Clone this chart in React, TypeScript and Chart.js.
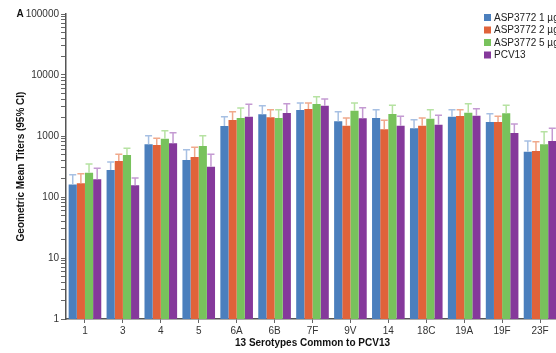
import React, { useEffect, useRef } from "react";
import { Chart, registerables } from "chart.js";

Chart.register(...registerables);

const categories = ["1", "3", "4", "5", "6A", "6B", "7F", "9V", "14", "18C", "19A", "19F", "23F"];

const seriesLabels = ["ASP3772 1 µg", "ASP3772 2 µg", "ASP3772 5 µg", "PCV13"];

const asp1 = [161, 277, 731, 404, 1459, 2270, 2669, 1741, 1972, 1337, 2073, 1697, 553];
const asp2 = [168, 389, 711, 453, 1829, 2025, 2772, 1476, 1288, 1476, 2128, 1697, 567];
const asp5 = [250, 488, 903, 686, 1972, 1972, 3350, 2600, 2295, 1921, 2413, 2355, 731];
const pcv13 = [195, 156, 759, 314, 2073, 2383, 3140, 1950, 1476, 1533, 2153, 1120, 828];

const asp1Upper = [232, 375, 1011, 597, 2073, 3140, 3475, 2505, 2702, 1853, 2702, 2322, 828];
const asp2Upper = [241, 501, 917, 652, 2505, 2702, 3475, 1972, 1808, 1972, 2702, 2101, 807];
const asp5Upper = [347, 629, 1222, 1011, 2877, 2702, 4413, 3475, 3186, 2702, 3388, 3186, 1177];
const pcv13Upper = [295, 205, 1133, 501, 3311, 3388, 4045, 2911, 2101, 2183, 2803, 1574, 1337];

const yTickLabels = ["1", "10", "100", "1000", "10000", "100000"];

const seriesValues = [asp1, asp2, asp5, pcv13];
const seriesUpper = [asp1Upper, asp2Upper, asp5Upper, pcv13Upper];

const colors = ["#4b7fbd", "#e0633a", "#78c25c", "#85399b"];
const whiskerColors = ["#a7c0e3", "#f0a98c", "#b6e2a2", "#c49ad2"];

const FONT = "'Liberation Sans', Arial, Helvetica, sans-serif";

const errorBarPlugin = {
  id: "errorBars",
  afterDatasetsDraw(chart: any) {
    const ctx = chart.ctx;
    const yScale = chart.scales.y;
    ctx.save();
    chart.data.datasets.forEach((ds: any, i: number) => {
      const meta = chart.getDatasetMeta(i);
      const upper = seriesUpper[i];
      meta.data.forEach((el: any, j: number) => {
        const x = el.x;
        const yTop = el.y;
        const yErr = yScale.getPixelForValue(upper[j]);
        ctx.strokeStyle = whiskerColors[i];
        ctx.lineWidth = 1.5;
        ctx.beginPath();
        ctx.moveTo(x, yTop);
        ctx.lineTo(x, yErr);
        ctx.moveTo(x - 3.5, yErr);
        ctx.lineTo(x + 3.5, yErr);
        ctx.stroke();
      });
    });
    ctx.restore();
  },
};

const customLegendPlugin = {
  id: "customLegend",
  afterDraw(chart: any) {
    const ctx = chart.ctx;
    ctx.save();
    ctx.font = `10px ${FONT}`;
    ctx.textBaseline = "middle";
    ctx.textAlign = "left";
    chart.data.datasets.forEach((ds: any, i: number) => {
      const cy = 17.5 + i * 12.5;
      ctx.fillStyle = ds.backgroundColor;
      ctx.fillRect(484, cy - 3.5, 7, 7);
      ctx.fillStyle = "#222";
      ctx.fillText(ds.label, 494, cy + 0.5);
    });
    // panel letter
    ctx.font = `bold 10px ${FONT}`;
    ctx.fillStyle = "#111";
    ctx.textAlign = "left";
    ctx.fillText("A", 16.5, 14.5);
    ctx.restore();
  },
};

export default function App() {
  const canvasRef = useRef<HTMLCanvasElement | null>(null);

  useEffect(() => {
    const canvas = canvasRef.current;
    if (!canvas) return;
    const chart = new Chart(canvas, {
      type: "bar",
      data: {
        labels: categories,
        datasets: seriesValues.map((vals, i) => ({
          label: seriesLabels[i],
          data: vals,
          backgroundColor: colors[i],
          borderWidth: 0,
          categoryPercentage: 0.86,
          barPercentage: 1.0,
        })),
      },
      options: {
        animation: false,
        responsive: false,
        devicePixelRatio: 1,
        layout: { padding: { left: 0, top: 14, right: 620 - 559, bottom: 0 } },
        plugins: {
          legend: { display: false },
          tooltip: { enabled: false },
        },
        scales: {
          x: {
            type: "category",
            offset: true,
            grid: {
              offset: false,
              drawOnChartArea: false,
              drawTicks: true,
              tickLength: 4,
              color: "#666",
            },
            border: { display: true, color: "#555", width: 1.5 },
            ticks: {
              color: "#333",
              font: { family: FONT, size: 10 },
              padding: 2,
              maxRotation: 0,
              autoSkip: false,
            },
            title: {
              display: true,
              text: "13 Serotypes Common to PCV13",
              color: "#111",
              font: { family: FONT, size: 10, weight: "bold" },
              padding: { top: 0, bottom: 4 },
            },
            afterFit(scale: any) {
              scale.height = 34;
            },
          },
          y: {
            type: "logarithmic",
            min: 1,
            max: 100000,
            grid: {
              drawOnChartArea: false,
              drawTicks: true,
              tickLength: 5,
              color: "#666",
            },
            border: { display: true, color: "#555", width: 1.5 },
            ticks: {
              color: "#333",
              font: { family: FONT, size: 10 },
              padding: 2,
              autoSkip: false,
              callback: (value: any) => {
                const s = String(value);
                return yTickLabels.includes(s) ? s : "";
              },
            },
            afterBuildTicks(scale: any) {
              const ticks: any[] = [];
              for (let d = 0; d < yTickLabels.length; d++) {
                const base = Number(yTickLabels[d]);
                ticks.push({ value: base, major: true });
                if (d < yTickLabels.length - 1) {
                  for (let m = 2; m <= 9; m++) ticks.push({ value: base * m });
                }
              }
              scale.ticks = ticks;
            },
            title: {
              display: true,
              text: "Geometric Mean Titers (95% CI)",
              color: "#111",
              font: { family: FONT, size: 10, weight: "bold" },
              padding: { top: 15, bottom: 0 },
            },
            afterFit(scale: any) {
              scale.width = 66;
            },
          },
        },
      } as any,
      plugins: [errorBarPlugin, customLegendPlugin],
    });
    return () => chart.destroy();
  }, []);

  return (
    <div
      style={{
        position: "fixed",
        left: 0,
        top: 0,
        width: 556,
        height: 353,
        overflow: "hidden",
        background: "#fff",
      }}
    >
      <canvas
        ref={canvasRef}
        width={620}
        height={353}
        style={{ position: "absolute", left: 0, top: 0, width: 620, height: 353 }}
      />
    </div>
  );
}
